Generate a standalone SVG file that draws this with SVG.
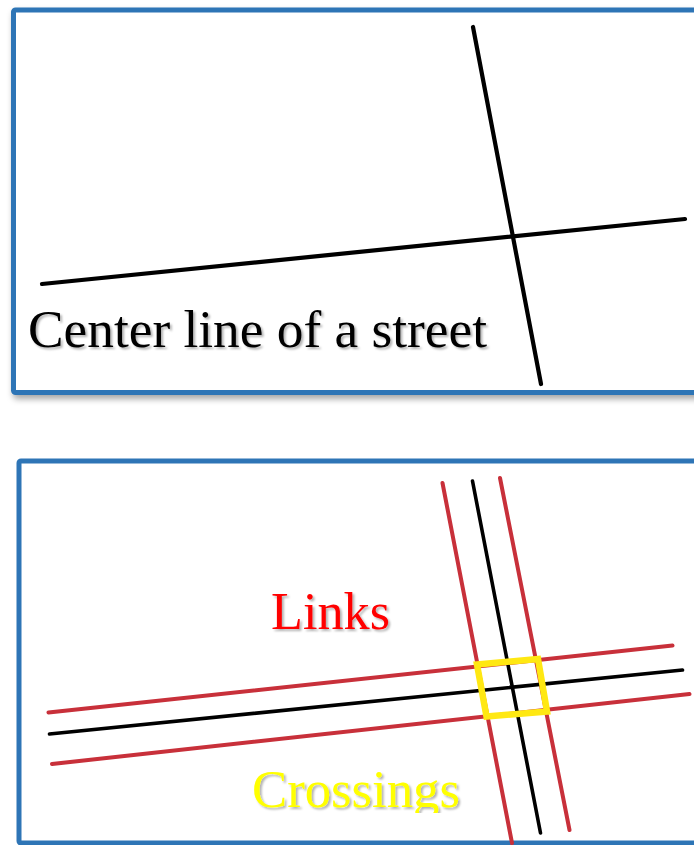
<svg xmlns="http://www.w3.org/2000/svg" width="694" height="845" viewBox="0 0 694 845">
  <defs>
    <filter id="boxShadow" x="-5%" y="-5%" width="110%" height="115%">
      <feDropShadow dx="2" dy="4" stdDeviation="3" flood-color="#000" flood-opacity="0.35"/>
    </filter>
    <filter id="textShadow" x="-5%" y="-10%" width="110%" height="130%">
      <feDropShadow dx="2" dy="2" stdDeviation="1.2" flood-color="#000" flood-opacity="0.3"/>
    </filter>
    <clipPath id="clipBottom">
      <rect x="0" y="440" width="694" height="373"/>
    </clipPath>
  </defs>
  <style>
    .panel { fill: #ffffff; stroke: #2E75B6; stroke-width: 5; }
    .center { stroke: #000000; stroke-linecap: round; fill: none; }
    .link { stroke: #C8303A; stroke-width: 4; stroke-linecap: round; fill: none; }
    .label { font-family: "Liberation Serif", "Times New Roman", serif; font-size: 53px; }
  </style>
  <rect width="694" height="845" fill="#ffffff"/>

  <g id="panel-top">
    <rect class="panel" x="13.5" y="10" width="700" height="382.5" rx="2" filter="url(#boxShadow)"/>
    <g id="centerlines-top">
      <line class="center" stroke-width="4.2" x1="473" y1="27" x2="541" y2="384"/>
      <line class="center" stroke-width="4.2" x1="42" y1="284" x2="685" y2="219"/>
    </g>
    <text class="label" x="28" y="347" fill="#000000" filter="url(#textShadow)" textLength="459" lengthAdjust="spacingAndGlyphs">Center line of a street</text>
  </g>

  <g id="panel-bottom">
    <rect class="panel" x="19" y="461" width="700" height="382" rx="2"/>
    <g id="connectors">
      <line class="link" x1="442.5" y1="483" x2="512" y2="843"/>
      <line class="link" x1="500" y1="478" x2="569.5" y2="830"/>
      <line class="link" x1="48.5" y1="712.5" x2="672.5" y2="645.5"/>
      <line class="link" x1="52" y1="764" x2="689.5" y2="694"/>
      <line class="center" stroke-width="3.6" x1="472.5" y1="481" x2="540.5" y2="833"/>
      <line class="center" stroke-width="3.6" x1="49.5" y1="734" x2="682.5" y2="670"/>
    </g>
    <g id="crossing">
      <polygon points="477,664.5 538,659 547,711.5 486.5,716.5" fill="none" stroke="#FFE812" stroke-width="6.5" stroke-linejoin="miter"/>
    </g>
    <g id="label-links">
      <text class="label" x="271" y="629" fill="#FF0000" filter="url(#textShadow)" textLength="119" lengthAdjust="spacingAndGlyphs">Links</text>
    </g>
    <g id="label-crossings" clip-path="url(#clipBottom)">
      <text class="label" x="252" y="806.5" fill="#FFFF00" filter="url(#textShadow)" textLength="208" lengthAdjust="spacingAndGlyphs">Crossings</text>
    </g>
  </g>
</svg>
